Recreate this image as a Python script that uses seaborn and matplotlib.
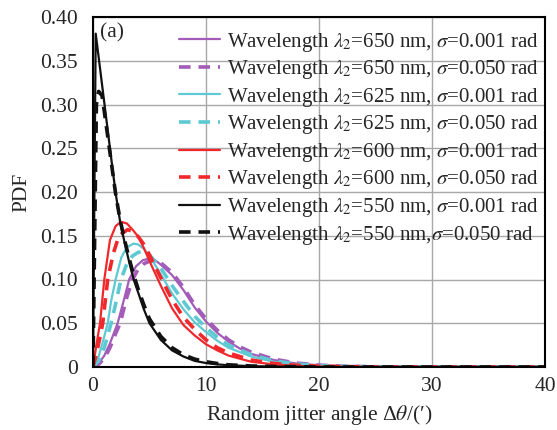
import numpy as np
import pandas as pd
import matplotlib
matplotlib.use("Agg")
import matplotlib.pyplot as plt
import seaborn as sns

# ---------------- data ----------------
x_b1 = [0, 0.24, 0.5, 1, 1.5, 2, 2.4, 2.8, 3.2, 3.6, 4, 4.5, 5, 6, 7, 8, 9, 10, 11, 12, 14, 16, 20, 40]
y_b1 = [0, 0.381, 0.354, 0.302, 0.250, 0.199, 0.166, 0.142, 0.120, 0.100, 0.085, 0.066, 0.050, 0.031,
        0.019, 0.012, 0.007, 0.0045, 0.003, 0.002, 0.001, 0.0005, 0, 0]

x_b2 = [0, 0.3, 0.5, 0.8, 1, 1.5, 2, 2.4, 2.8, 3.2, 3.6, 4, 4.5, 5, 6, 7, 8, 9, 10, 11, 12, 14, 16, 20, 40]
y_b2 = [0, 0.300, 0.315, 0.310, 0.292, 0.245, 0.198, 0.168, 0.145, 0.124, 0.105, 0.089, 0.071, 0.055,
        0.035, 0.022, 0.014, 0.009, 0.006, 0.004, 0.0025, 0.0012, 0.0006, 0, 0]

x_r1 = [0, 0.3, 0.62, 1, 1.5, 2, 2.47, 3, 3.5, 4, 4.5, 5, 6, 7, 8, 9, 10, 11, 12, 14, 16, 18, 20, 25, 40]
y_r1 = [0, 0.025, 0.050, 0.100, 0.145, 0.161, 0.166, 0.164, 0.157, 0.149, 0.136, 0.121, 0.093, 0.067,
        0.048, 0.036, 0.026, 0.019, 0.013, 0.006, 0.003, 0.0012, 0.0005, 0, 0]

x_r2 = [0, 0.3, 0.6, 0.86, 1.3, 1.8, 2.3, 3.06, 3.5, 4, 4.5, 5, 6, 7, 8, 9, 10, 11, 12, 14, 16, 18, 20, 25, 40]
y_r2 = [0, 0.015, 0.033, 0.050, 0.100, 0.130, 0.150, 0.157, 0.155, 0.149, 0.140, 0.128, 0.102, 0.077,
        0.057, 0.043, 0.031, 0.022, 0.016, 0.008, 0.004, 0.002, 0.001, 0, 0]

x_c1 = [0, 0.5, 1, 1.3, 1.6, 2, 2.5, 3, 3.6, 4, 4.5, 5, 6, 7, 8, 9, 10, 11, 12, 14, 16, 18, 20, 22, 25, 40]
y_c1 = [0, 0.012, 0.035, 0.050, 0.075, 0.100, 0.125, 0.137, 0.141, 0.140, 0.135, 0.127, 0.106, 0.084,
        0.066, 0.051, 0.040, 0.030, 0.022, 0.012, 0.006, 0.003, 0.0013, 0.0005, 0, 0]

x_c2 = [0, 0.5, 1, 1.6, 2, 2.47, 3, 3.5, 4, 4.4, 5, 6, 7, 8, 9, 10, 11, 12, 14, 16, 18, 20, 22, 25, 40]
y_c2 = [0, 0.007, 0.022, 0.050, 0.072, 0.100, 0.118, 0.127, 0.131, 0.132, 0.128, 0.113, 0.093, 0.075,
        0.058, 0.045, 0.034, 0.025, 0.014, 0.007, 0.0035, 0.0015, 0.0007, 0, 0]

x_p1 = [0, 0.5, 1, 1.5, 2.18, 2.7, 3.2, 3.8, 4.4, 5, 5.5, 6, 7, 8, 9, 10, 11, 12, 13, 14, 16, 18, 20, 22, 25, 40]
y_p1 = [0, 0.004, 0.013, 0.027, 0.050, 0.075, 0.100, 0.115, 0.122, 0.124, 0.122, 0.117, 0.105, 0.088,
        0.068, 0.052, 0.039, 0.029, 0.021, 0.015, 0.008, 0.004, 0.002, 0.0008, 0, 0]

x_p2 = [0, 0.5, 1, 1.5, 2, 2.4, 3, 3.5, 4, 4.5, 5, 5.5, 6, 7, 8, 9, 10, 11, 12, 13, 14, 16, 18, 20, 22, 25, 30, 40]
y_p2 = [0, 0.003, 0.010, 0.022, 0.038, 0.050, 0.080, 0.100, 0.112, 0.118, 0.121, 0.121, 0.119, 0.108,
        0.091, 0.071, 0.055, 0.042, 0.031, 0.023, 0.017, 0.009, 0.0045, 0.0022, 0.001, 0.0003, 0, 0]

labels = [
    r"Wavelength $\lambda_2$=650 nm, $\sigma$=0.001 rad",
    r"Wavelength $\lambda_2$=650 nm, $\sigma$=0.050 rad",
    r"Wavelength $\lambda_2$=625 nm, $\sigma$=0.001 rad",
    r"Wavelength $\lambda_2$=625 nm, $\sigma$=0.050 rad",
    r"Wavelength $\lambda_2$=600 nm, $\sigma$=0.001 rad",
    r"Wavelength $\lambda_2$=600 nm, $\sigma$=0.050 rad",
    r"Wavelength $\lambda_2$=550 nm, $\sigma$=0.001 rad",
    r"Wavelength $\lambda_2$=550 nm,$\sigma$=0.050 rad",
]
xs = [x_p1, x_p2, x_c1, x_c2, x_r1, x_r2, x_b1, x_b2]
ys = [y_p1, y_p2, y_c1, y_c2, y_r1, y_r2, y_b1, y_b2]

x_ticks = [0, 10, 20, 30, 40]
y_ticks = [0, 0.05, 0.10, 0.15, 0.20, 0.25, 0.30, 0.35, 0.40]
y_ticklabels = ["0", "0.05", "0.10", "0.15", "0.20", "0.25", "0.30", "0.35", "0.40"]

# ---------------- style ----------------
sns.set_style("white")
plt.rcParams["font.family"] = ["Liberation Serif", "DejaVu Serif"]
plt.rcParams["mathtext.fontset"] = "stix"

colors = ["#a35cb8", "#a35cb8", "#5ec9d3", "#5ec9d3", "#f0282c", "#f0282c", "#111111", "#111111"]
solid = [True, False] * 4

fig = plt.figure(figsize=(5.57, 4.30), dpi=100)
ax = fig.add_axes([93 / 557, 1 - 367 / 430, (545 - 93) / 557, (367 - 17) / 430])

for i in range(8):
    df = pd.DataFrame({"x": xs[i], "y": ys[i]})
    if solid[i]:
        sns.lineplot(data=df, x="x", y="y", ax=ax, color=colors[i], lw=1.6,
                     label=labels[i], sort=False, estimator=None)
    else:
        sns.lineplot(data=df, x="x", y="y", ax=ax, color=colors[i], lw=2.6,
                     label=labels[i], sort=False, estimator=None, linestyle=(0, (3.2, 2.2)))

ax.set_xlim(0, 40)
ax.set_ylim(0, 0.40)
ax.set_xticks(x_ticks)
ax.set_xticklabels([str(t) for t in x_ticks])
ax.set_yticks(y_ticks)
ax.set_yticklabels(y_ticklabels)
ax.tick_params(axis="both", labelsize=15.5, length=0)
ax.tick_params(axis="y", pad=11)
ax.tick_params(axis="x", pad=7)
ax.grid(True, color="#a8a8a8", lw=1.0)
ax.set_axisbelow(True)
for s in ax.spines.values():
    s.set_color("black")
    s.set_linewidth(1.5)

ax.set_xlabel("Random jitter angle Δ$\\theta$/(′)", fontsize=15.5, labelpad=5)
ax.set_ylabel("PDF", fontsize=15.5, labelpad=6)
ax.text(0.015, 0.982, "(a)", transform=ax.transAxes, fontsize=15.5, va="top", ha="left")

leg = ax.legend(loc="upper right", bbox_to_anchor=(1.016, 1.0), frameon=False, fontsize=15,
                handlelength=2.0, handletextpad=0.3, labelspacing=0.22, borderaxespad=0.2,
                borderpad=0.45)

fig.savefig("out.png", dpi=100)
